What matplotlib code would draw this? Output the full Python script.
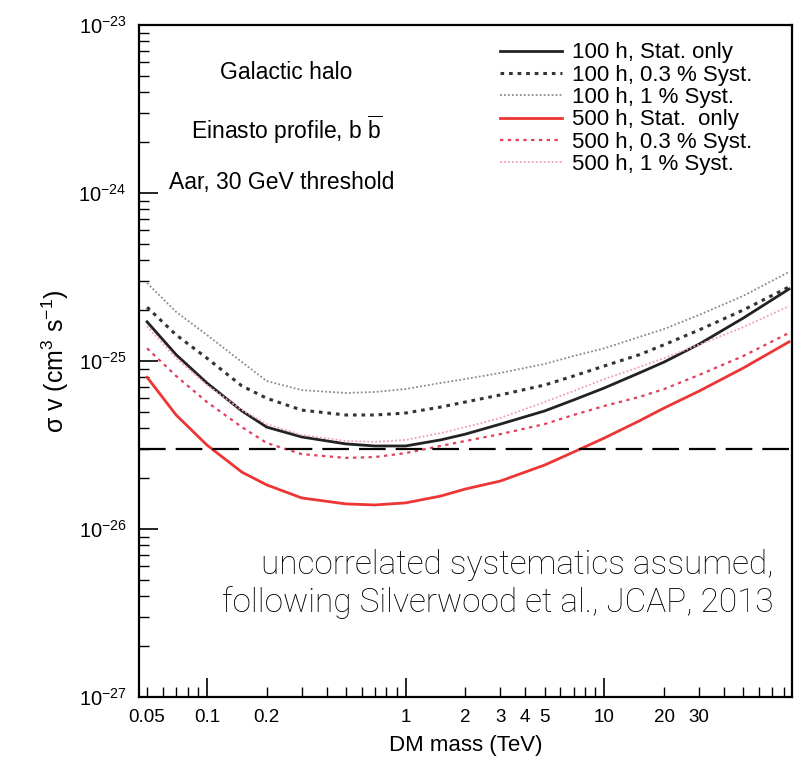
import matplotlib
matplotlib.use("Agg")
import matplotlib.pyplot as plt
from matplotlib.ticker import FixedLocator, FuncFormatter, NullFormatter, LogFormatterSciNotation
import numpy as np

plt.rcParams['font.family'] = ['Liberation Sans', 'DejaVu Sans']
plt.rcParams['mathtext.fontset'] = 'custom'
plt.rcParams['mathtext.rm'] = 'Liberation Sans'
plt.rcParams['mathtext.it'] = 'Liberation Sans:italic'
plt.rcParams['mathtext.bf'] = 'Liberation Sans:bold'

# DM mass (TeV)
mass = [0.05, 0.07, 0.1, 0.15, 0.2, 0.3, 0.5, 0.7, 1, 1.5, 2, 3, 5, 7, 10, 15, 20, 30, 50, 85]

stat_100 = [1.71e-25, 1.09e-25, 7.4e-26, 5.04e-26, 4.04e-26, 3.53e-26, 3.21e-26, 3.12e-26, 3.12e-26,
            3.39e-26, 3.67e-26, 4.21e-26, 5.04e-26, 5.86e-26, 6.91e-26, 8.49e-26, 9.86e-26,
            1.26e-25, 1.80e-25, 2.68e-25]
syst03_100 = [2.09e-25, 1.43e-25, 1.04e-25, 7.1e-26, 6.0e-26, 5.1e-26, 4.77e-26, 4.77e-26, 4.9e-26,
              5.32e-26, 5.70e-26, 6.28e-26, 7.19e-26, 8.14e-26, 9.34e-26, 1.09e-25, 1.25e-25,
              1.53e-25, 2.01e-25, 2.76e-25]
syst1_100 = [2.91e-25, 1.96e-25, 1.43e-25, 9.86e-26, 7.6e-26, 6.71e-26, 6.45e-26, 6.54e-26, 6.81e-26,
             7.40e-26, 7.81e-26, 8.49e-26, 9.6e-26, 1.07e-25, 1.19e-25, 1.39e-25, 1.55e-25,
             1.88e-25, 2.44e-25, 3.39e-25]
stat_500 = [8.0e-26, 4.77e-26, 3.16e-26, 2.18e-26, 1.83e-26, 1.53e-26, 1.41e-26, 1.39e-26, 1.43e-26,
            1.57e-26, 1.73e-26, 1.93e-26, 2.40e-26, 2.87e-26, 3.48e-26, 4.40e-26, 5.25e-26,
            6.62e-26, 9.08e-26, 1.30e-25]
syst03_500 = [1.19e-25, 8.14e-26, 5.70e-26, 4.04e-26, 3.25e-26, 2.79e-26, 2.65e-26, 2.68e-26, 2.83e-26,
              3.12e-26, 3.34e-26, 3.67e-26, 4.21e-26, 4.77e-26, 5.40e-26, 6.11e-26, 6.81e-26,
              8.26e-26, 1.07e-25, 1.47e-25]
syst1_500 = [1.61e-25, 1.04e-25, 7.2e-26, 5.1e-26, 4.21e-26, 3.63e-26, 3.34e-26, 3.30e-26, 3.39e-26,
             3.72e-26, 4.04e-26, 4.58e-26, 5.70e-26, 6.62e-26, 7.81e-26, 9.2e-26, 1.04e-25,
             1.25e-25, 1.59e-25, 2.12e-25]

thermal_relic = 3e-26

labels = ["100 h, Stat. only", "100 h, 0.3 % Syst.", "100 h, 1 % Syst.",
          "500 h, Stat.  only", "500 h, 0.3 % Syst.", "500 h, 1 % Syst."]

x_major = [0.1, 1, 10]
x_labeled_minor = [0.05, 0.2, 2, 3, 4, 5, 20, 30]
y_major = [1e-27, 1e-26, 1e-25, 1e-24, 1e-23]

fig = plt.figure(figsize=(7.94, 7.67), dpi=100)
ax = fig.add_axes([0.175, 0.0913, 0.8225, 0.8761])

ax.plot(mass, stat_100, color='#222222', lw=2.0, ls='-', label=labels[0])
ax.plot(mass, syst03_100, color='#333333', lw=2.2, ls=(0, (1.2, 1.6)), label=labels[1])
ax.plot(mass, syst1_100, color='#8a8a8a', lw=1.3, ls=(0, (1.0, 1.2)), label=labels[2])
ax.plot(mass, stat_500, color='#ec3535', lw=2.0, ls='-', label=labels[3])
ax.plot(mass, syst03_500, color='#e0405a', lw=1.6, ls=(0, (1.5, 2.0)), label=labels[4])
ax.plot(mass, syst1_500, color='#f2a0b0', lw=1.3, ls=(0, (1.0, 1.2)), label=labels[5])

ax.axhline(thermal_relic, color='black', lw=1.6, ls=(0, (12, 4.5)))

ax.set_xscale('log')
ax.set_yscale('log')
ax.set_xlim(0.0455, 88)
ax.set_ylim(1e-27, 1e-23)

ax.xaxis.set_major_locator(FixedLocator(x_major))
minors = []
for dec in [0.01, 0.1, 1, 10]:
    for k in range(2, 10):
        v = k * dec
        if 0.0455 <= v <= 88:
            minors.append(v)
ax.xaxis.set_minor_locator(FixedLocator(minors))

ax.yaxis.set_major_locator(FixedLocator(y_major))
ymin = []
for e in range(-27, -23):
    for k in range(2, 10):
        ymin.append(k * 10.0 ** e)
ax.yaxis.set_minor_locator(FixedLocator(ymin))
ax.yaxis.set_major_formatter(LogFormatterSciNotation())
ax.yaxis.set_minor_formatter(NullFormatter())

def fmt(v, pos=None):
    return ('%g' % v)

def fmt_minor(v, pos=None):
    for t in x_labeled_minor:
        if abs(v - t) / t < 1e-6:
            return '%g' % t
    return ''

ax.xaxis.set_major_formatter(FuncFormatter(fmt))
ax.xaxis.set_minor_formatter(FuncFormatter(fmt_minor))

ax.tick_params(axis='both', which='both', direction='in', top=False, right=False)
ax.tick_params(axis='both', which='major', length=14, width=1.2)
ax.tick_params(axis='both', which='minor', length=7, width=1.0)
ax.tick_params(axis='x', which='both', labelsize=13.5, pad=9)
ax.tick_params(axis='y', which='major', labelsize=14.5, pad=9)

for s in ax.spines.values():
    s.set_linewidth(1.6)

ax.set_xlabel('DM mass (TeV)', fontsize=16, labelpad=6)
ax.set_ylabel('σ v (cm$^{3}$ s$^{-1}$)', fontsize=18, labelpad=5)

ax.text(0.225, 0.930, 'Galactic halo', transform=ax.transAxes, ha='center', va='center', fontsize=16.5)
ax.text(0.226, 0.844, r'Einasto profile, b $\overline{\mathrm{b}}$', transform=ax.transAxes,
        ha='center', va='center', fontsize=16.5)
ax.text(0.219, 0.765, 'Aar, 30 GeV threshold', transform=ax.transAxes, ha='center', va='center', fontsize=16.5)

ax.text(0.972, 0.196, 'uncorrelated systematics assumed,', transform=ax.transAxes,
        ha='right', va='center', fontsize=24, family=['Roboto', 'DejaVu Sans'],
        fontweight='light', color='black')
ax.text(0.972, 0.141, 'following Silverwood et al., JCAP, 2013', transform=ax.transAxes,
        ha='right', va='center', fontsize=24, family=['Roboto', 'DejaVu Sans'],
        fontweight='light', color='black')

leg = ax.legend(loc='upper left', bbox_to_anchor=(0.553, 0.974), frameon=False,
                fontsize=16, handlelength=2.8, handletextpad=0.45, labelspacing=0.06,
                borderpad=0, borderaxespad=0)

fig.savefig('out.png', dpi=100)
